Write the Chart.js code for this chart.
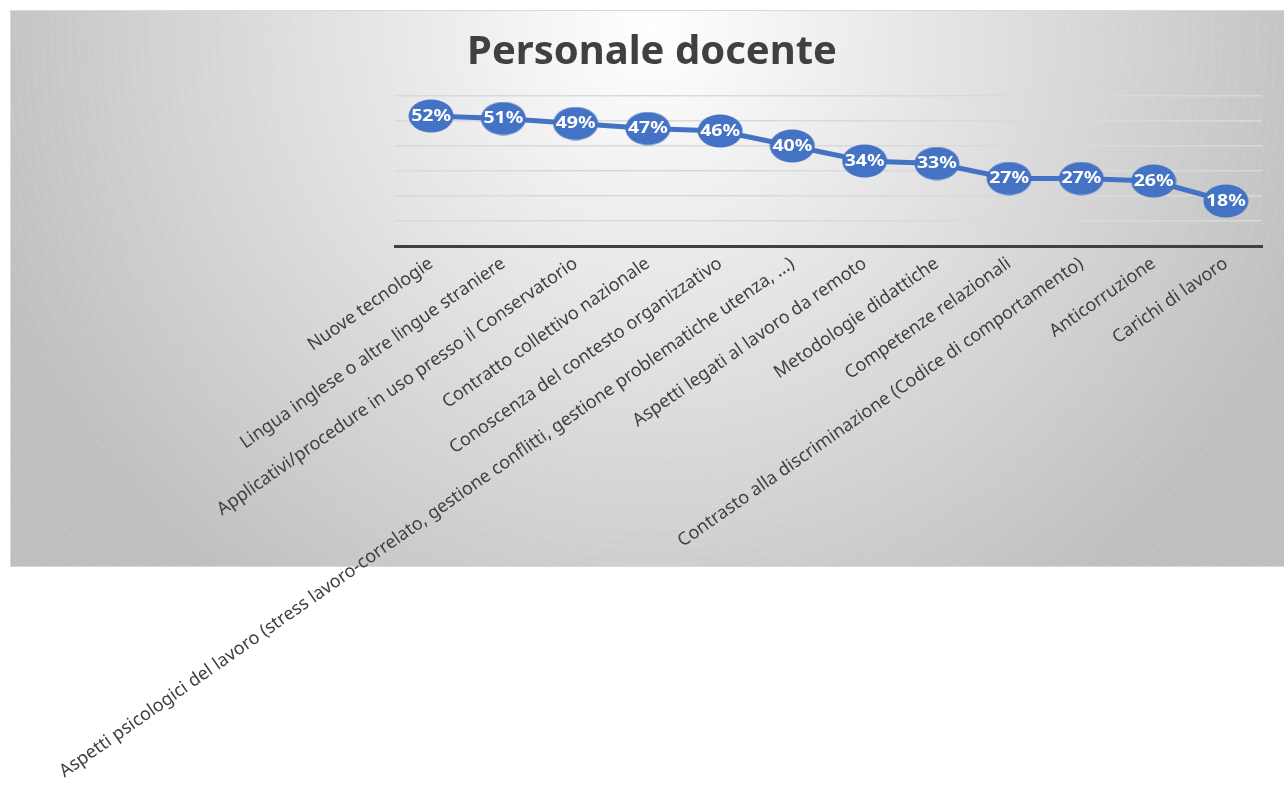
<!DOCTYPE html>
<html lang="it">
<head>
<meta charset="utf-8">
<title>Personale docente</title>
<script src="https://cdn.jsdelivr.net/npm/chart.js@4/dist/chart.umd.min.js"></script>
<style>
  html, body { margin: 0; padding: 0; background: #ffffff; }
  #wrap { position: relative; width: 1284px; height: 785px; }
</style>
</head>
<body>
<div id="wrap"><canvas id="grafico" width="1284" height="785"></canvas></div>
<script>
// dati del grafico
const titolo = 'Personale docente';
const categorie = [
  'Nuove tecnologie',
  'Lingua inglese o altre lingue straniere',
  'Applicativi/procedure in uso presso il Conservatorio',
  'Contratto collettivo nazionale',
  'Conoscenza del contesto organizzativo',
  'Aspetti psicologici del lavoro (stress lavoro-correlato, gestione conflitti, gestione problematiche utenza, ...)',
  'Aspetti legati al lavoro da remoto',
  'Metodologie didattiche',
  'Competenze relazionali',
  'Contrasto alla discriminazione (Codice di comportamento)',
  'Anticorruzione',
  'Carichi di lavoro'
];
const percentuali = [52, 51, 49, 47, 46, 40, 34, 33, 27, 27, 26, 18];
const asseMin = 0;
const asseMax = 60;
const passo = 10;

const blu = '#4472C4';
const grigioTesto = '#404040';
const font = 'Noto Sans';

// marker ellittico (nel grafico originale i punti sono ovali)
function creaMarker(w, h, colore) {
  const c = document.createElement('canvas');
  c.width = w;
  c.height = h;
  const ctx = c.getContext('2d');
  ctx.fillStyle = colore;
  ctx.beginPath();
  ctx.ellipse(w / 2, h / 2, w / 2 - 0.5, h / 2 - 0.5, 0, 0, Math.PI * 2);
  ctx.fill();
  return c;
}
const marker = creaMarker(46, 34, blu);

// sfondo con sfumatura radiale e cerchi leggeri
const sfondo = {
  id: 'sfondo',
  beforeDraw(chart) {
    const ctx = chart.ctx;
    const x0 = 10, y0 = 10, x1 = 1284, y1 = 567;
    ctx.save();
    ctx.fillStyle = '#ffffff';
    ctx.fillRect(0, 0, chart.width, chart.height);
    const g = ctx.createRadialGradient(650, 30, 0, 650, 30, 700);
    g.addColorStop(0, '#ffffff');
    g.addColorStop(1, '#bfbfbf');
    ctx.fillStyle = g;
    ctx.fillRect(x0, y0, x1 - x0, y1 - y0);
    ctx.beginPath();
    ctx.rect(x0, y0, x1 - x0, y1 - y0);
    ctx.clip();
    ctx.strokeStyle = 'rgba(255,255,255,0.3)';
    ctx.lineWidth = 0.6;
    ctx.setLineDash([2, 2]);
    for (let r = 40; r < 950; r += 9) {
      ctx.beginPath();
      ctx.arc(650, 30, r, 0, Math.PI * 2);
      ctx.stroke();
    }
    ctx.restore();
    ctx.save();
    ctx.strokeStyle = '#d9d9d9';
    ctx.lineWidth = 1;
    ctx.strokeRect(x0 + 0.5, y0 + 0.5, x1 - x0, y1 - y0 - 1);
    ctx.restore();
  }
};

// etichette percentuali dentro i marker
const etichette = {
  id: 'etichette',
  afterDatasetsDraw(chart) {
    const ctx = chart.ctx;
    const meta = chart.getDatasetMeta(0);
    ctx.save();
    ctx.fillStyle = '#ffffff';
    ctx.font = 'bold 16px "' + font + '"';
    ctx.textAlign = 'center';
    ctx.textBaseline = 'middle';
    meta.data.forEach((p, i) => {
      ctx.save();
      ctx.translate(p.x, p.y);
      ctx.scale(1.22, 1);
      ctx.fillText(percentuali[i] + '%', 0, 0);
      ctx.restore();
    });
    ctx.restore();
  }
};

new Chart(document.getElementById('grafico'), {
  type: 'line',
  data: {
    labels: categorie,
    datasets: [{
      label: titolo,
      data: percentuali,
      borderColor: blu,
      backgroundColor: blu,
      borderWidth: 5,
      tension: 0,
      pointStyle: marker,
      pointRadius: 17
    }]
  },
  options: {
    responsive: false,
    animation: false,
    events: [],
    layout: { padding: { left: 37, right: 17, top: 0, bottom: 0 } },
    plugins: {
      legend: { display: false },
      tooltip: { enabled: false },
      title: {
        display: true,
        text: titolo,
        color: grigioTesto,
        font: { family: font, size: 40, weight: 'bold', lineHeight: 1.2 },
        padding: { top: 29, bottom: 19 }
      }
    },
    scales: {
      x: {
        offset: true,
        grid: { display: false, drawTicks: false },
        border: { display: true, color: grigioTesto, width: 3 },
        ticks: {
          color: grigioTesto,
          font: { family: font, size: 18 },
          minRotation: 35,
          maxRotation: 35,
          autoSkip: false,
          padding: 7
        },
        afterFit(scale) { scale.height = 539; }
      },
      y: {
        min: asseMin,
        max: asseMax,
        ticks: { display: false, stepSize: passo },
        grid: { color: '#d9d9d9', lineWidth: 1.5, drawTicks: false },
        border: { display: false },
        afterFit(scale) { scale.width = 358; }
      }
    }
  },
  plugins: [sfondo, etichette]
});
</script>
</body>
</html>
